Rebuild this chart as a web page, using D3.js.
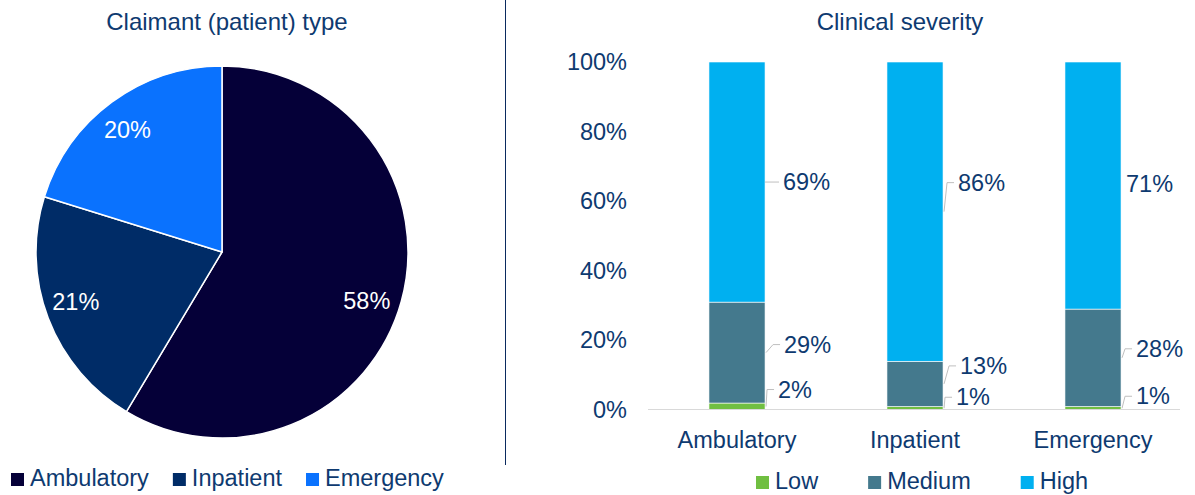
<!DOCTYPE html>
<html>
<head>
<meta charset="utf-8">
<script src="https://cdn.jsdelivr.net/npm/d3@7"></script>
<style>
  html, body { margin: 0; padding: 0; background: #fff; }
  svg { display: block; font-family: "Liberation Sans", Arial, sans-serif; }
</style>
</head>
<body>
<svg id="chart" width="1195" height="495"></svg>
<script>
// ---- data ----
const claimantTypes = ["Ambulatory", "Inpatient", "Emergency"];
const claimantShare = [58, 21, 20];

const severityCategories = ["Ambulatory", "Inpatient", "Emergency"];
const severityLevels = ["Low", "Medium", "High"];
const lowValues = [2, 1, 1];
const mediumValues = [29, 13, 28];
const highValues = [69, 86, 71];
const yTicks = [0, 20, 40, 60, 80, 100];

// ---- styling ----
const textColor = "#0e3a70";
const fontSize = 23.5;
const pieColors = ["#050038", "#002c67", "#0a72fe"];
const severityColors = { Low: "#70bf41", Medium: "#44798d", High: "#00b0f0" };

// data label nudges (px) relative to each label's default spot
const pieLabelNudge = [[-4, 8], [-2, -5], [-3, 2]];
// per category, per level: [dx from bar edge, dy from segment middle, leader?]
const barLabelNudge = [
  [[13, -17, true], [19, -8, true], [18, 0, true]],
  [[13, -11, true], [17, -18, true], [15, -29, true]],
  [[15, -12, true], [15, -9, true], [5, -2, false]]
];

const svg = d3.select("#chart");

// ================= Left: pie =================
const pieG = svg.append("g").attr("transform", "translate(222,252)");
const radius = 186;

svg.append("text")
  .attr("x", 227).attr("y", 30)
  .attr("text-anchor", "middle")
  .attr("fill", textColor).attr("font-size", 24)
  .text("Claimant (patient) type");

const pie = d3.pie().sort(null).value(d => d.value);
const pieData = pie(claimantTypes.map((t, i) => ({ type: t, value: claimantShare[i], i })));
const arc = d3.arc().innerRadius(0).outerRadius(radius);
const labelArc = d3.arc().innerRadius(radius * 0.83).outerRadius(radius * 0.83);

pieG.selectAll("path.slice")
  .data(pieData)
  .join("path")
  .attr("class", "slice")
  .attr("d", arc)
  .attr("fill", d => pieColors[d.data.i])
  .attr("stroke", "#ffffff")
  .attr("stroke-width", 1.5)
  .attr("stroke-linejoin", "round");

pieG.selectAll("text.pl")
  .data(pieData)
  .join("text")
  .attr("class", "pl")
  .attr("x", d => labelArc.centroid(d)[0] + pieLabelNudge[d.data.i][0])
  .attr("y", d => labelArc.centroid(d)[1] + pieLabelNudge[d.data.i][1])
  .attr("dy", "0.35em")
  .attr("text-anchor", "middle")
  .attr("fill", "#ffffff")
  .attr("font-size", fontSize)
  .text(d => d.data.value + "%");

// pie legend
function drawLegend(items, colors, startX, squareTop, baseline, gap) {
  let x = startX;
  items.forEach((name, i) => {
    svg.append("rect")
      .attr("x", x).attr("y", squareTop)
      .attr("width", 13).attr("height", 13)
      .attr("fill", colors[i]);
    const t = svg.append("text")
      .attr("x", x + 19).attr("y", baseline)
      .attr("fill", textColor).attr("font-size", fontSize)
      .text(name);
    x = x + 19 + t.node().getComputedTextLength() + gap;
  });
}
drawLegend(claimantTypes, pieColors, 11, 473, 486, 24);

// divider
svg.append("line")
  .attr("x1", 505.5).attr("x2", 505.5)
  .attr("y1", 0).attr("y2", 465)
  .attr("stroke", "#0a2a5e").attr("stroke-width", 1);

// ================= Right: stacked columns =================
svg.append("text")
  .attr("x", 900).attr("y", 30)
  .attr("text-anchor", "middle")
  .attr("fill", textColor).attr("font-size", 24)
  .text("Clinical severity");

const x = d3.scaleBand().domain(severityCategories).range([648, 1182]).padding(0);
const y = d3.scaleLinear().domain([0, 100]).range([410, 62]);
const barW = x.bandwidth() * 0.315;

const rows = severityCategories.map((c, i) => ({
  category: c, Low: lowValues[i], Medium: mediumValues[i], High: highValues[i], i
}));
const stacked = d3.stack().keys(severityLevels)(rows);

// y axis labels
const yAxis = svg.append("g")
  .attr("transform", "translate(627,0)")
  .call(d3.axisLeft(y).tickValues(yTicks).tickSize(0).tickPadding(0).tickFormat(d => d + "%"));
yAxis.select(".domain").remove();
yAxis.selectAll("text")
  .attr("fill", textColor).attr("font-size", fontSize)
  .attr("font-family", "Liberation Sans, Arial, sans-serif");

// bars
const barG = svg.append("g");
stacked.forEach(layer => {
  barG.selectAll(null)
    .data(layer)
    .join("rect")
    .attr("x", d => x(d.data.category) + (x.bandwidth() - barW) / 2)
    .attr("y", d => y(d[1]))
    .attr("width", barW)
    .attr("height", d => y(d[0]) - y(d[1]))
    .attr("fill", severityColors[layer.key])
    .attr("stroke", "#ffffff")
    .attr("stroke-width", 0.6);
});

// baseline
svg.append("line")
  .attr("x1", 648).attr("x2", 1180)
  .attr("y1", y(0) - 0.5).attr("y2", y(0) - 0.5)
  .attr("stroke", "#d9d9d9").attr("stroke-width", 1.2);

// category labels
const xAxis = svg.append("g")
  .attr("transform", `translate(0,${y(0)})`)
  .call(d3.axisBottom(x).tickSize(0).tickPadding(21));
xAxis.select(".domain").remove();
xAxis.selectAll("text")
  .attr("fill", textColor).attr("font-size", fontSize)
  .attr("font-family", "Liberation Sans, Arial, sans-serif");

// data labels with leader lines
const labelG = svg.append("g");
stacked.forEach((layer, li) => {
  layer.forEach((d, ci) => {
    const [dx, dy, leader] = barLabelNudge[ci][li];
    const barRight = x(d.data.category) + (x.bandwidth() + barW) / 2;
    const segMid = y((d[0] + d[1]) / 2);
    const tx = barRight + dx;
    const ty = segMid + dy;
    if (leader) {
      const end = tx - 4;
      const elbow = Math.max(barRight + 2, end - 7);
      const pts = dy === 0
        ? [[barRight, segMid], [end, ty]]
        : [[barRight + 1, segMid], [elbow, ty], [end, ty]];
      labelG.append("path")
        .attr("d", d3.line()(pts))
        .attr("fill", "none")
        .attr("stroke", "#bfbfbf")
        .attr("stroke-width", 1);
    }
    labelG.append("text")
      .attr("x", tx).attr("y", ty)
      .attr("dy", "0.35em")
      .attr("fill", textColor).attr("font-size", fontSize)
      .text((d[1] - d[0]) + "%");
  });
});

// severity legend
drawLegend(severityLevels, severityLevels.map(k => severityColors[k]), 756, 476, 489, 50);
</script>
</body>
</html>
